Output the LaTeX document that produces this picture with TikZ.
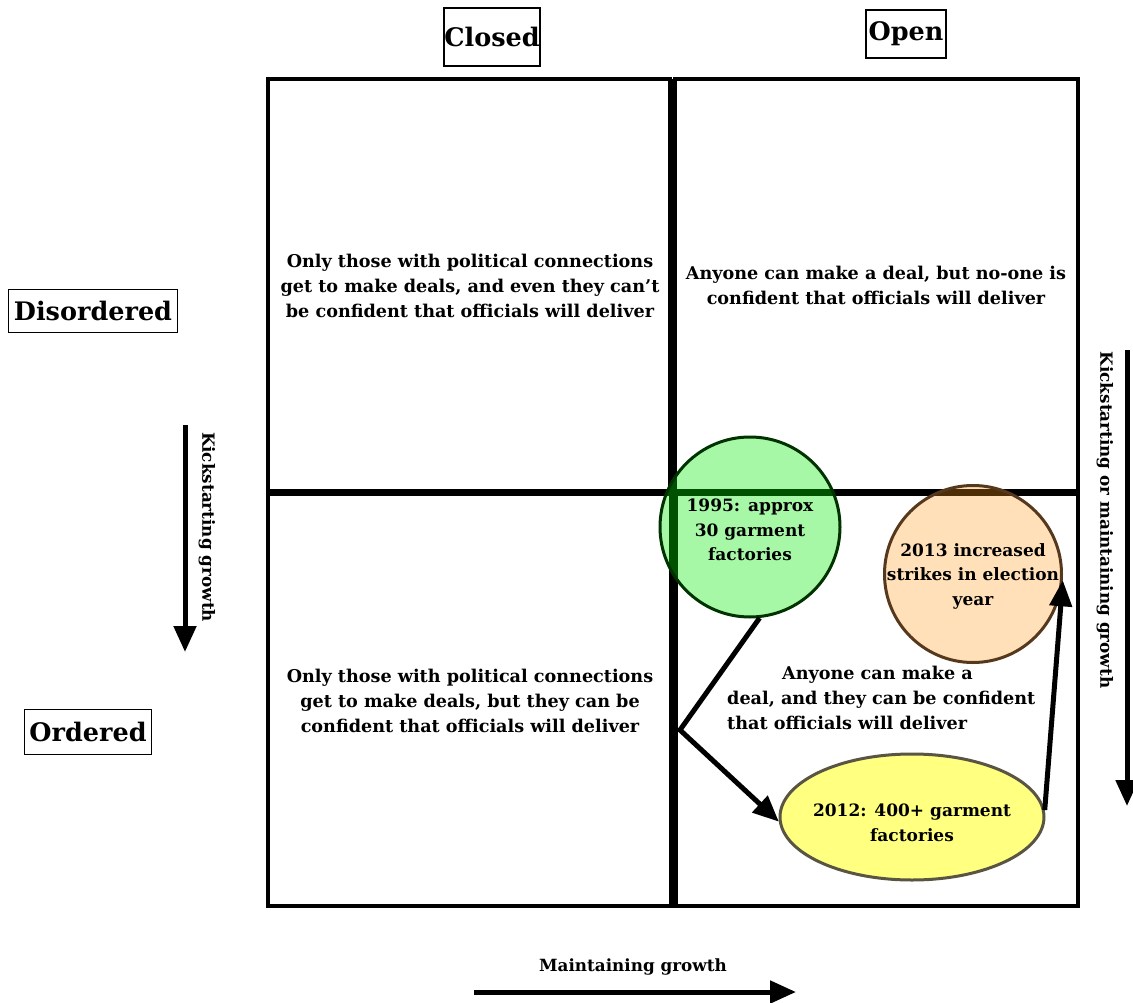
\documentclass[tikz,border=0pt]{standalone}
\usepackage{fontspec}
\setmainfont{DejaVu Serif}
\usetikzlibrary{arrows.meta,shapes.geometric}
\begin{document}
\begin{tikzpicture}[x=1pt,y=-1pt,
 hdr/.style={draw,line width=1.2pt,font=\bfseries\fontsize{25.5}{30}\selectfont,inner sep=0pt},
 quad/.style={draw,line width=3.5pt},
 body/.style={font=\bfseries\fontsize{17.6}{25}\selectfont,align=center},
 side/.style={font=\bfseries\fontsize{16.8}{18}\selectfont},
 arr/.style={line width=5pt,line join=miter,-{Triangle[length=26pt,width=22pt]}},
 bubble/.style={line width=3pt,fill opacity=0.35,inner sep=0pt},
 btext/.style={font=\bfseries\fontsize{17}{24.5}\selectfont,align=center,inner sep=0pt},
]
\useasboundingbox (0,0) rectangle (1133,1003);
\fill[white] (0,0) rectangle (1133,1003);
% quadrants
\draw[quad] (268,79) rectangle (670,492);
\draw[quad] (675,79) rectangle (1078,492);
\draw[quad] (268,492) rectangle (672,906);
\draw[quad] (676,492) rectangle (1078,906);
\draw[line width=7pt] (268,492) -- (1078,492);
\draw[line width=8pt] (673,79) -- (673,906);
% headers
\node[hdr, minimum width=96pt, minimum height=58pt] (closed) at (492,37) {Closed};
\node[hdr, minimum width=80pt, minimum height=48pt] (open) at (906,34) {Open};
\node[hdr, minimum width=169pt, minimum height=43pt] (dis) at (93,311) {Disordered};
\node[hdr, minimum width=127pt, minimum height=45pt] (ord) at (88,732) {Ordered};
% quadrant texts
\node[body] (tl) at (470,286) {Only those with political connections\\get to make deals, and even they can't\\be confident that officials will deliver};
\node[body] (tr) at (876,285) {Anyone can make a deal, but no-one is\\confident that officials will deliver};
\node[body] (bl) at (470,701) {Only those with political connections\\get to make deals, but they can be\\confident that officials will deliver};
\node[body, align=left, anchor=west, inner sep=0pt] (br) at (727,698) {\hspace*{55pt}Anyone can make a\\deal, and they can be confident\\that officials will deliver};
% bubbles
\node[bubble, circle, minimum size=180pt, draw=green!20!black, fill=green!92!black] (g) at (750,527) {};
\node[btext] (gt) at (750,530) {1995: approx\\30 garment\\factories};
\node[bubble, circle, minimum size=177pt, draw=brown!45!black, fill={rgb,1:red,1;green,0.6;blue,0.1}, fill opacity=0.3] (o) at (973,574) {};
\node[btext] (ot) at (973,576) {2013 increased\\strikes in election\\year};
\node[bubble, ellipse, minimum width=264pt, minimum height=126pt, draw=yellow!25!black, fill={rgb,1:red,1;green,1;blue,0.5}, fill opacity=1] (y) at (912,817) {};
\node[btext] (yt) at (912,823) {2012: 400+ garment\\factories};
% connectors
\coordinate (bend) at (680,730);
\draw[arr] (g.-84) -- (bend) -- (y.182);
\draw[arr] (y.3) -- (o.-4);
% axis arrows
\coordinate (ls) at (185,425); \coordinate (le) at (185,652);
\draw[arr] (ls) -- (le);
\node[side, rotate=-90] (lk) at (207,527) {Kickstarting growth};
\coordinate (rs) at (1127,350); \coordinate (re) at (1127,806);
\draw[arr] (rs) -- (re);
\node[side, rotate=-90] (rk) at (1105,520) {Kickstarting or maintaining growth};
\coordinate (bs) at (474,992); \coordinate (be) at (796,992);
\draw[arr] (bs) -- (be);
\node[side] (mg) at (633,967) {Maintaining growth};
\end{tikzpicture}
\end{document}
